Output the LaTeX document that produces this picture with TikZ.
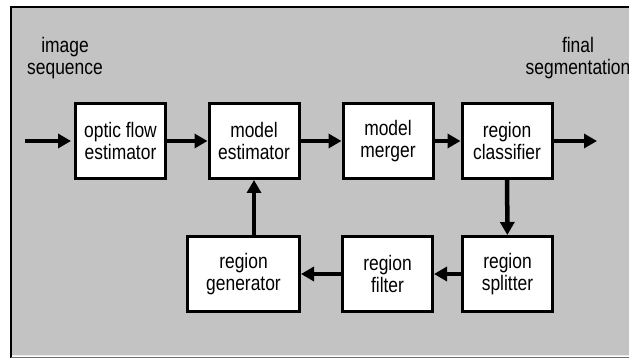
\documentclass[tikz,border=0pt]{standalone}
\usepackage{fontspec}
\setmainfont[FakeStretch=0.83]{Liberation Sans}
\usetikzlibrary{arrows.meta}
\definecolor{panelgray}{RGB}{195,195,195}
\definecolor{edgegray}{RGB}{110,110,110}

\tikzset{
  block/.style={draw, line width=3pt, fill=white, inner sep=0pt,
    minimum width=90pt, minimum height=75pt, align=center,
    font=\fontsize{21}{22}\selectfont},
  iotext/.style={align=center, inner sep=0pt, font=\fontsize{21}{22}\selectfont},
  flow/.style={line width=4.5pt, -{Triangle[length=13pt,width=14pt]}}
}

\begin{document}
\begin{tikzpicture}[x=1pt, y=-1pt]
            \useasboundingbox (0,0) rectangle (629,358);
            % Panel
            \fill[white] (0,0) rectangle (629,358);
            \fill[panelgray] (11,7) rectangle (629,356);
            \draw[line width=2pt] (11,358) -- (11,7) -- (629,7);
            \draw[line width=1pt, white!85!gray] (12,355) -- (629,355);
            \draw[line width=2pt, edgegray] (11,357.5) -- (629,357.5);
            % Input / output
            \node[iotext] (inlbl) at (65,58) {image\\sequence};
            \node[iotext] (outlbl) at (578,58) {final\\segmentation};
            \coordinate (src) at (25,141);
            \coordinate (dst) at (597,141);
            % Top row
            \node[block] (flow) at (120.5,141) {optic flow\\estimator};
            \node[block] (est) at (254,141) {model\\estimator};
            \node[block] (mrg) at (388,141) {model\\merger};
            \node[block] (cls) at (507,141) {region\\classifier};
            % Bottom row
            \node[block, minimum width=112pt] (gen) at (243.5,274) {region\\generator};
            \node[block] (fil) at (387.5,274) {region\\filter};
            \node[block] (spl) at (507.5,274) {region\\splitter};
            % Connectors
            \draw[flow, shorten >=3pt] (src) -- (flow);
            \draw[flow] (flow) -- (est);
            \draw[flow] (est) -- (mrg);
            \draw[flow] (mrg) -- (cls);
            \draw[flow] (cls) -- (dst);
            \draw[flow] (cls) -- (spl);
            \draw[flow] (spl) -- (fil);
            \draw[flow] (fil) -- (gen);
            \draw[flow] (gen.north -| est.south) -- (est.south);
        \end{tikzpicture}
\end{document}
